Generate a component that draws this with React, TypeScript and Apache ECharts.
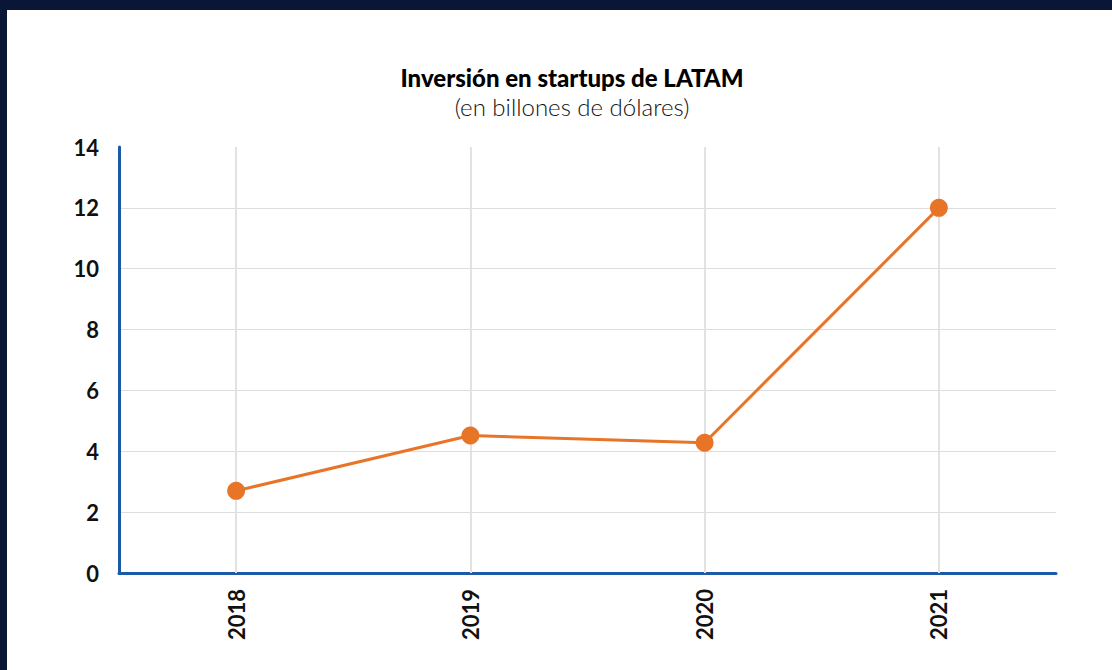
import React, { useEffect, useRef } from "react";
import * as echarts from "echarts";

const titleText = "Inversión en startups de LATAM";
const subtitleText = "(en billones de dólares)";
const years = ["2018", "2019", "2020", "2021"];
const investment = [2.7, 4.52, 4.28, 12.0];
const yTicks = { min: 0, max: 14, interval: 2 };

export default function App() {
  const ref = useRef<HTMLDivElement>(null);
  useEffect(() => {
    document.body.style.margin = "0";
    const chart = echarts.init(ref.current!, null, { renderer: "svg" });
    const gridColors = ["#dddddd", "#dddddd", "#dddddd", "#dddddd", "#dddddd", "#dddddd", "#dddddd", "rgba(0,0,0,0)"];
    chart.setOption({
      animation: false,
      backgroundColor: "#ffffff",
      graphic: [
        {
          type: "text",
          x: 565,
          y: 55,
          style: {
            text: titleText,
            font: "900 24px Lato",
            fill: "#000000",
            textAlign: "center",
            textVerticalAlign: "top",
          },
        },
        {
          type: "text",
          x: 565,
          y: 84,
          style: {
            text: subtitleText,
            font: "300 24px Lato",
            fill: "#111111",
            textAlign: "center",
            textVerticalAlign: "top",
          },
        },
      ],
      grid: { left: 112, right: 56, top: 137, bottom: 97, containLabel: false },
      xAxis: {
        type: "category",
        data: years,
        boundaryGap: true,
        axisLine: { show: true, lineStyle: { color: "#1a5aa6", width: 3 } },
        axisTick: { show: false },
        axisLabel: {
          rotate: 90,
          margin: 16,
          fontFamily: "Lato",
          fontWeight: "bold",
          fontSize: 22,
          color: "#111111",
        },
        splitLine: { show: false },
      },
      yAxis: {
        type: "value",
        min: yTicks.min,
        max: yTicks.max,
        interval: yTicks.interval,
        axisLine: { show: true, lineStyle: { color: "#1a5aa6", width: 3 } },
        axisTick: { show: false },
        axisLabel: {
          margin: 20,
          fontFamily: "Lato",
          fontWeight: "bold",
          fontSize: 22,
          color: "#111111",
        },
        splitLine: { show: true, lineStyle: { color: gridColors, width: 1 } },
      },
      series: [
        {
          type: "line",
          data: investment,
          symbol: "circle",
          symbolSize: 18,
          lineStyle: { color: "#e87428", width: 3 },
          itemStyle: { color: "#e87428" },
          z: 5,
          markLine: {
            silent: true,
            symbol: "none",
            label: { show: false },
            lineStyle: { color: "#e2e2e2", width: 2, type: "solid" },
            z: 1,
            data: years.map((y) => ({ xAxis: y })),
          },
        },
      ],
    });
    return () => chart.dispose();
  }, []);
  return (
    <div style={{ position: "relative", width: 1112, height: 670, background: "#0a1636", overflow: "hidden" }}>
      <div
        ref={ref}
        style={{ position: "absolute", left: 7, top: 10, width: 1105, height: 660 }}
      />
    </div>
  );
}
